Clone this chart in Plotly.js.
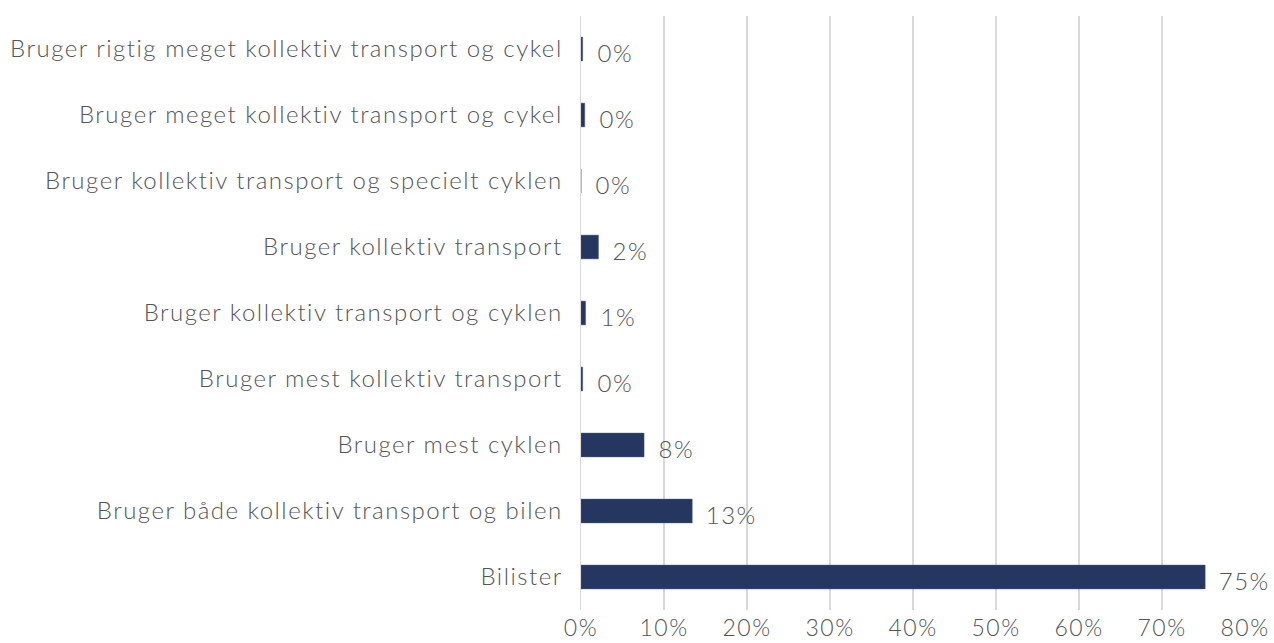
<!DOCTYPE html>
<html>
<head>
<meta charset="utf-8">
<script src="https://cdn.plot.ly/plotly-3.0.1.min.js"></script>
<style>
html,body{margin:0;padding:0;background:#fff;}
#chart{width:1274px;height:643px;}
#chart text{letter-spacing:1.5px;}
</style>
</head>
<body>
<div id="chart"></div>
<script>
const categories = [
  "Bruger rigtig meget kollektiv transport og cykel",
  "Bruger meget kollektiv transport og cykel",
  "Bruger kollektiv transport og specielt cyklen",
  "Bruger kollektiv transport",
  "Bruger kollektiv transport og cyklen",
  "Bruger mest kollektiv transport",
  "Bruger mest cyklen",
  "Bruger både kollektiv transport og bilen",
  "Bilister"
];
const values = [0.2, 0.45, 0, 2.1, 0.55, 0.2, 7.6, 13.4, 75.2];
const xTickVals = [0, 10, 20, 30, 40, 50, 60, 70, 80];
const xTickText = ["0%", "10%", "20%", "30%", "40%", "50%", "60%", "70%", "80%"];

const FONT = "Lato, 'Open Sans', sans-serif";
const GREY = "#555555";

const trace = {
  type: "bar",
  orientation: "h",
  x: values,
  y: categories,
  width: 0.36,
  marker: {color: "#253661", line: {color: "#4a5a82", width: 0.5}},
  hoverinfo: "x+y"
};

const annotations = categories.map((c, i) => ({
  x: values[i],
  y: c,
  xref: "x",
  yref: "y",
  text: Math.round(values[i]) + "%",
  showarrow: false,
  xanchor: "left",
  yanchor: "middle",
  xshift: 14,
  yshift: -3,
  font: {family: FONT, size: 24, weight: 300, color: GREY}
}));

const layout = {
  width: 1274,
  height: 643,
  margin: {l: 581, r: 29, t: 16, b: 33},
  paper_bgcolor: "#ffffff",
  plot_bgcolor: "#ffffff",
  showlegend: false,
  bargap: 0.64,
  xaxis: {
    range: [0, 80],
    tickvals: xTickVals,
    ticktext: xTickText,
    showgrid: true,
    gridcolor: "#d9d9d9",
    gridwidth: 1.5,
    zeroline: false,
    showline: false,
    ticks: "",
    ticklabelstandoff: 2,
    fixedrange: true,
    tickfont: {family: FONT, size: 23, weight: 300, color: GREY}
  },
  yaxis: {
    autorange: "reversed",
    type: "category",
    showgrid: false,
    zeroline: false,
    showline: true,
    linecolor: "#d9d9d9",
    linewidth: 1.5,
    ticks: "",
    ticklabelstandoff: 12,
    tickfont: {family: FONT, size: 24, weight: 300, color: GREY}
  },
  annotations: annotations
};

Plotly.newPlot("chart", [trace], layout, {displayModeBar: false, staticPlot: true});
</script>
</body>
</html>
